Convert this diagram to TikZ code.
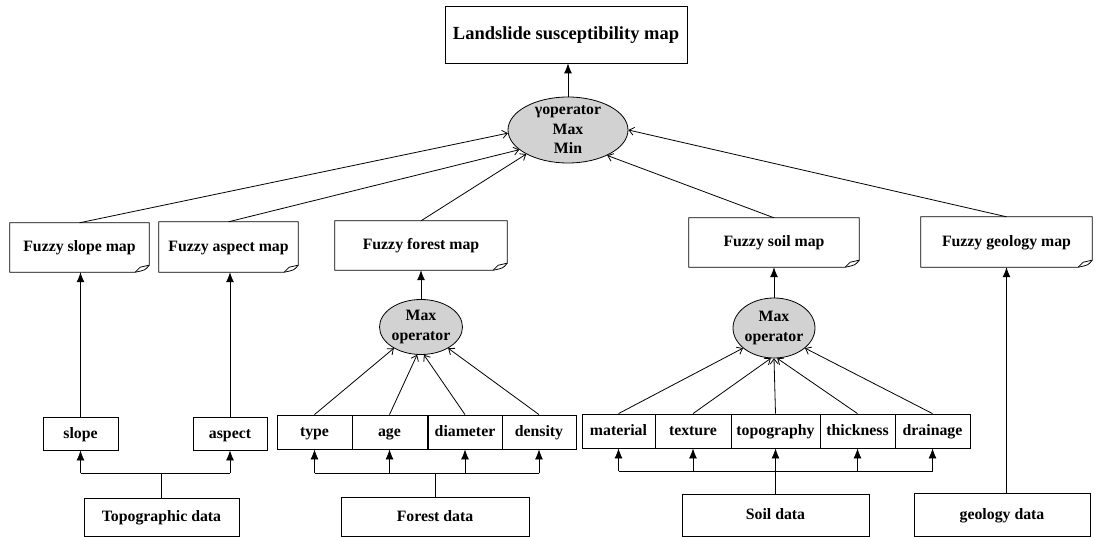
\documentclass[tikz,border=0pt]{standalone}
\usepackage{fontspec}
\setmainfont{Liberation Serif}
\usetikzlibrary{arrows.meta,shapes.geometric,calc}
\newcommand{\docoutline}[1]{%
  \draw[ln] (#1.south west) -- (#1.north west) -- (#1.north east) -- ([yshift=7pt]#1.south east)
    .. controls ([xshift=-4pt,yshift=2pt]#1.south east) .. ([xshift=-14pt]#1.south east) -- cycle;
  \draw[ln] ([xshift=-14pt]#1.south east) -- ([xshift=-9pt,yshift=5pt]#1.south east) -- ([yshift=7pt]#1.south east);}
\begin{document}
\begin{tikzpicture}[x=1pt,y=-1pt,
  lbl/.style={font=\bfseries\fontsize{15.8}{19.5}\selectfont},
  ln/.style={line width=0.8pt},
  plainbox/.style={draw,line width=0.8pt,lbl,inner sep=0pt,align=center,text height=12pt,text depth=3pt},
  docbox/.style={lbl,inner sep=0pt,align=center,text height=12pt,text depth=3pt},
  opell/.style={ellipse,draw,line width=0.8pt,fill=gray!35,inner sep=0pt},
  farr/.style={line width=0.8pt,-{Latex[length=10pt,width=8pt]}},
  earr/.style={line width=0.8pt,-{Straight Barb[length=5pt,width=8pt]}}]
\useasboundingbox (0,0) rectangle (1095,537);

% top
\node[plainbox,font=\bfseries\fontsize{18.5}{22}\selectfont,text height=14pt,text depth=4pt,minimum width=242pt,minimum height=57pt] (top) at (566,34.5) {Landslide susceptibility map};
\node[opell,minimum width=120pt,minimum height=66pt,
  label={[lbl,align=center,inner sep=0pt]center:γoperator\\Max\\Min}] (opall) at (568,130) {};

% fuzzy maps
\node[docbox,minimum width=139pt,minimum height=49pt] (fslope) at (79.5,247.5) {Fuzzy slope map};
\docoutline{fslope}
\node[docbox,minimum width=139pt,minimum height=50pt] (faspect) at (228.5,247) {Fuzzy aspect map};
\docoutline{faspect}
\node[docbox,minimum width=172pt,minimum height=49pt] (fforest) at (421,245.5) {Fuzzy forest map};
\docoutline{fforest}
\node[docbox,minimum width=170pt,minimum height=49pt] (fsoil) at (774,242.5) {Fuzzy soil map};
\docoutline{fsoil}
\node[docbox,minimum width=171pt,minimum height=50pt] (fgeo) at (1006.5,242) {Fuzzy geology map};
\docoutline{fgeo}

% operators
\node[opell,minimum width=83pt,minimum height=55pt,
  label={[lbl,align=center,inner sep=0pt]center:Max\\operator}] (opforest) at (421,327) {};
\node[opell,minimum width=82pt,minimum height=60pt,
  label={[lbl,align=center,inner sep=0pt]center:Max\\operator}] (opsoil) at (774,328) {};

% items
\node[plainbox,minimum width=75pt,minimum height=33pt] (slope) at (80.5,433.5) {slope};
\node[plainbox,minimum width=74pt,minimum height=33pt] (aspect) at (230,433.5) {aspect};

\node[plainbox,minimum width=75pt,minimum height=34pt] (type) at (314.5,432) {type};
\node[plainbox,minimum width=75pt,minimum height=34pt] (age) at (389.5,432) {age};
\node[plainbox,minimum width=74pt,minimum height=34pt] (diameter) at (465,432) {diameter};
\node[plainbox,minimum width=74pt,minimum height=34pt] (density) at (539,432) {density};

\node[plainbox,minimum width=73pt,minimum height=34pt] (material) at (618.5,431) {material};
\node[plainbox,minimum width=76pt,minimum height=34pt] (texture) at (693,431) {texture};
\node[plainbox,minimum width=89pt,minimum height=34pt] (topography) at (775.5,431) {topography};
\node[plainbox,minimum width=75pt,minimum height=34pt] (thickness) at (857.5,431) {thickness};
\node[plainbox,minimum width=75pt,minimum height=34pt] (drainage) at (932.5,431) {drainage};

% data
\node[plainbox,minimum width=155pt,minimum height=38pt] (topodata) at (161.5,517) {Topographic data};
\node[plainbox,minimum width=188pt,minimum height=39pt] (forestdata) at (435,516.5) {Forest data};
\node[plainbox,minimum width=187pt,minimum height=42pt] (soildata) at (775.5,515) {Soil data};
\node[plainbox,minimum width=176pt,minimum height=43pt] (geodata) at (1002,514.5) {geology data};

% connectors to top
\draw[farr] (opall.north) -- (opall.north |- top.south);
\draw[earr] (fslope.north) -- (opall.183);
\draw[earr] (faspect.north) -- (opall.202);
\draw[earr] (fforest.north) -- (opall.210);
\draw[earr] (fsoil.north) -- (opall.327);
\draw[earr] (fgeo.north) -- (opall.0);

% operators to fuzzy maps
\draw[farr] (opforest.north) -- (fforest.south);
\draw[farr] (opsoil.north) -- (fsoil.south);
\draw[farr] (slope.north) -- (slope.north |- fslope.south);
\draw[farr] (aspect.north) -- (aspect.north |- faspect.south);
\draw[farr] (geodata.north -| fgeo.south) -- (fgeo.south);

% items to operators
\draw[earr] (type.north) -- (opforest.218);
\draw[earr] (age.north) -- (opforest.262);
\draw[earr] (diameter.north) -- (opforest.276);
\draw[earr] (density.north) -- (opforest.322);
\draw[earr] (material.north) -- (opsoil.213);
\draw[earr] (texture.north) -- (opsoil.264);
\draw[earr] (topography.north) -- (opsoil.south);
\draw[earr] (thickness.north) -- (opsoil.276);
\draw[earr] (drainage.north) -- (opsoil.327);

% buses
\coordinate (tbus) at (162,473);
\draw[ln] (topodata.north) -- (topodata.north |- tbus);
\draw[ln] (tbus -| slope.south) -- (tbus -| aspect.south);
\draw[farr] (tbus -| slope.south) -- (slope.south);
\draw[farr] (tbus -| aspect.south) -- (aspect.south);

\coordinate (fbus) at (435,473);
\draw[ln] (forestdata.north) -- (forestdata.north |- fbus);
\draw[ln] (fbus -| type.south) -- (fbus -| density.south);
\draw[farr] (fbus -| type.south) -- (type.south);
\draw[farr] (fbus -| age.south) -- (age.south);
\draw[farr] (fbus -| diameter.south) -- (diameter.south);
\draw[farr] (fbus -| density.south) -- (density.south);

\coordinate (sbus) at (775,471);
\draw[ln] (sbus -| material.south) -- (sbus -| drainage.south);
\draw[farr] (sbus -| material.south) -- (material.south);
\draw[farr] (sbus -| texture.south) -- (texture.south);
\draw[farr] (soildata.north) -- (topography.south);
\draw[farr] (sbus -| thickness.south) -- (thickness.south);
\draw[farr] (sbus -| drainage.south) -- (drainage.south);
\end{tikzpicture}
\end{document}
